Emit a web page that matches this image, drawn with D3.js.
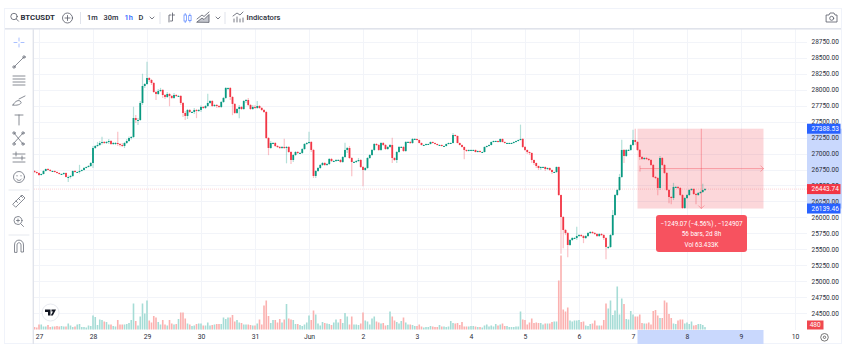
<!DOCTYPE html>
<html><head><meta charset="utf-8">
<script src="https://cdn.jsdelivr.net/npm/d3@7"></script>
<style>html,body{margin:0;padding:0;background:#fff;overflow:hidden}svg{display:block}text{font-family:Roboto,"Noto Sans",sans-serif}</style>
</head><body><svg id="c" width="850" height="351"></svg>
<script>
const closes=[
26711,26696,
26664,26680,26727,26758,26743,26727,26727,26711,26696,26680,26680,26696,26633,26633,26649,26727,26711,26711,26727,26743,26774,26790,26805,26852,
27087,27118,27134,27165,27181,27165,27181,27196,27149,27165,27165,27149,27134,27118,27165,27196,27243,27259,27556,27525,27525,27791,28057,28088,
28182,28151,28104,27963,27932,27979,27995,27916,27885,27932,27901,27870,27916,27901,27901,27791,27635,27588,27682,27650,27650,27682,27666,27682,
27729,27713,27744,27791,27822,27744,27760,27744,27729,27807,27870,28026,28026,27885,27776,27635,27697,27729,27697,27822,27838,27760,27697,27729,
27713,27744,27713,27682,27650,27243,27087,27165,27165,27118,27103,27087,27103,27087,27103,27024,26899,26977,27024,27009,27009,27071,27149,27165,
27181,27056,26649,26727,26774,26821,26852,26821,26836,26915,26883,26883,26899,26899,26868,26946,27056,27087,26930,26868,26868,26883,26899,26790,
26743,26774,26930,26977,27056,27149,27134,27056,27165,27134,27071,27103,27134,26930,26899,27024,27103,27103,27040,27181,27181,27165,27228,27228,
27212,27165,27134,27134,27149,27149,27181,27165,27149,27134,27134,27118,27118,27149,27165,27165,27290,27275,27165,27134,27103,27056,27040,27056,
27056,27056,27024,27040,27024,27024,27103,27118,27134,27181,27196,27196,27181,27228,27181,27165,27165,27165,27165,27181,27196,27212,27228,27103,
27056,27024,27009,26899,26852,26805,26774,26790,26790,26758,26774,26743,26711,26711,26790,26351,26007,25804,25756,25569,25647,25678,25678,25709,
25725,25709,25678,25709,25756,25772,25756,25741,25709,25741,25725,25678,25538,25538,25725,26038,26351,26430,26633,27056,26962,27056,27056,27134,
27212,27181,27056,26946,26915,26930,26915,26899,26821,26633,26617,26461,26930,26821,26696,26430,26320,26304,26477,26477,26461,26351,26148,26304,
26351,26430,26445,26367,26351,26383,26398,26430,26443.74];
const upperWicks=[
16,8,
8,8,16,8,16,16,8,8,8,8,8,8,8,24,16,8,16,8,96,8,16,8,16,16,
32,16,48,32,80,16,16,32,16,16,16,176,16,32,16,32,24,16,176,48,32,32,192,16,
256,16,16,16,16,32,32,16,16,32,16,16,32,16,16,16,16,32,16,16,16,32,16,16,
24,16,16,144,16,16,16,16,16,16,16,16,8,16,16,16,16,32,16,16,16,32,16,32,
32,80,16,16,16,16,16,32,16,16,16,16,16,128,16,16,16,16,16,16,16,16,16,16,
160,16,16,16,16,16,16,16,16,16,16,16,16,16,16,16,112,16,32,16,16,16,32,16,
16,16,16,16,16,16,16,16,16,16,16,16,16,112,16,16,16,16,16,16,16,16,16,16,
8,8,8,8,8,8,8,8,8,8,8,8,8,8,8,8,32,8,8,8,8,8,8,8,
8,8,8,8,8,8,8,8,8,8,8,8,8,8,8,8,8,8,8,8,8,8,224,16,
16,8,8,8,8,8,8,8,8,8,8,8,8,8,8,8,8,16,16,16,16,16,16,144,
16,16,16,16,16,16,16,16,16,16,16,16,16,16,16,80,16,16,48,160,16,16,16,16,
160,176,16,16,16,16,16,16,16,16,16,16,32,16,16,16,16,16,64,16,16,16,16,16,
16,16,16,16,16,16,16,96,16];
const lowerWicks=[
16,16,
16,8,8,8,8,8,8,8,8,8,8,16,8,80,24,16,8,8,24,8,8,8,8,16,
80,16,16,16,24,16,16,32,16,16,32,32,24,16,32,16,16,24,16,48,80,16,32,32,
16,32,32,16,96,16,16,48,32,16,160,16,16,16,16,32,64,64,48,16,16,32,112,16,
32,16,16,16,16,16,16,32,16,16,16,16,32,48,176,16,16,144,16,16,32,16,16,16,
16,16,16,16,16,16,112,16,16,16,16,16,16,16,240,16,64,32,16,16,16,16,16,16,
16,32,32,32,16,16,16,16,16,16,16,16,16,16,16,16,16,48,16,224,16,16,16,16,
256,16,16,16,16,16,16,16,16,16,16,16,16,80,16,48,16,16,16,16,16,16,16,16,
8,8,8,8,8,8,8,8,8,8,8,8,8,8,8,8,8,8,8,8,8,144,16,8,
8,8,8,8,8,8,8,8,8,8,8,8,8,8,8,8,8,8,8,8,8,8,8,16,
16,32,32,48,32,32,32,32,16,32,16,16,32,16,16,16,576,288,32,192,16,16,16,32,
16,16,80,16,16,16,16,16,16,16,16,32,192,32,16,16,16,16,16,16,112,16,16,16,
16,48,16,48,16,16,16,16,16,16,16,112,32,16,16,16,96,96,32,16,16,16,16,16,
16,16,16,16,144,16,16,16,16];
const volumes=[
500,400,1000,1000,600,600,900,500,600,600,700,600,700,600,600,1200,800,500,600,1000,1100,500,500,400,800,700,
2800,2500,900,2000,1900,1600,1500,1000,1000,700,600,1900,1000,1000,1000,1100,1300,1900,5200,1700,800,2600,5200,3200,
5800,1800,1400,2700,2400,1500,1000,1900,1000,800,1900,1200,1000,1100,2100,3400,3400,2200,1200,1000,700,800,1100,1200,
1200,800,800,1400,800,900,1000,1100,1100,1100,2400,2100,2400,2400,2900,1600,1900,1400,1300,1000,1000,1000,900,800,
800,1200,2000,1000,4800,5800,2700,1300,1900,1900,1400,2100,1400,2000,5100,2200,2000,1900,1100,1100,900,700,1000,1400,
2800,1900,3800,3000,1200,800,1500,1300,1200,1100,900,1400,2000,1400,2100,1300,3300,2600,1000,2600,1000,1000,900,1200,
3400,1800,1600,1000,2200,2600,1600,1400,1200,1300,800,900,3600,2600,1800,1500,1200,1700,2400,1400,1000,1000,900,700,
700,1000,600,400,500,500,700,600,500,500,900,600,600,500,600,1700,1300,1200,1300,900,1500,600,600,600,
700,700,600,500,500,400,800,1000,600,800,600,1100,800,1000,1200,700,700,500,500,500,600,600,3600,2000,
1900,1000,1400,2200,1300,1400,1300,1300,1000,1200,1200,1200,1500,1600,1600,9800,14800,4000,3600,4400,1800,1600,1800,1800,
1900,1500,1600,800,700,1100,1200,1800,800,800,800,1900,5200,4200,5800,2900,3800,8600,3000,6200,5100,2100,2000,3700,
3000,2600,2600,3000,1300,1200,1200,1400,1000,3700,3900,2800,2300,2300,5800,5400,3100,2300,1200,1100,1800,2000,2000,1200,
1400,1100,1600,800,900,1100,1100,900,480];
const firstOpen=26727;
const priceTicks=[28750,28500,28250,28000,27750,27500,27250,27000,26750,26500,26250,26000,25750,25500,25250,25000,24750,24500];
const dayLabels=["27","28","29","30","31","Jun","2","3","4","5","6","7","8","9","10"];
const dayBars=[2,26,50,74,98,122,146,170,194,218,242,266,290,314,338];
const measureFrom=27388.53, measureTo=26139.46, lastPrice=26443.74, lastVolume=480;
const measureBars=[268,324];
const measureLines=["\u22121249.07 (\u22124.56%) , \u2212124907","56 bars, 2d 8h","Vol 63.433K"];
const intervals=["1m","30m","1h","D"];

const svg=d3.select("#c");
const x=d3.scaleLinear().domain([0,298]).range([34.5,34.5+2.25*298]);
const y=d3.scaleLinear().domain([28750,24500]).range([41.7,313.3]);
const v=d3.scaleLinear().domain([0,10000]).range([329.5,279.5]);
const UP="#089981",DN="#f23645",UPV="#a6dcd6",DNV="#fbb1b0",BLUE="#2962ff",LINE="#e0e3eb",INK="#2a2e39";
const bars=closes.map((c,i)=>{const o=i?closes[i-1]:firstOpen;return{i,o,c,h:Math.max(o,c)+upperWicks[i],l:Math.min(o,c)-lowerWicks[i],vol:volumes[i],up:c>=o};});

svg.append("defs").append("clipPath").attr("id","pl").append("rect").attr("x",34).attr("y",29).attr("width",773).attr("height",301);

// gridlines
const grid=svg.append("g").attr("stroke","#f2f4f9").attr("stroke-width",1);
grid.selectAll(".h").data(priceTicks).join("line").attr("x1",34).attr("x2",807).attr("y1",d=>Math.round(y(d))+.5).attr("y2",d=>Math.round(y(d))+.5);
grid.selectAll(".v").data(dayBars).join("line").attr("y1",29).attr("y2",330).attr("x1",d=>Math.round(x(d))+.5).attr("x2",d=>Math.round(x(d))+.5);

// measure zone
const mx0=x(measureBars[0]),mx1=x(measureBars[1]);
const xMid=(mx0+mx1)/2+.8, yMid=(y(measureFrom)+y(measureTo))/2;
svg.append("rect").attr("x",mx0).attr("y",y(measureFrom)).attr("width",mx1-mx0).attr("height",y(measureTo)-y(measureFrom)).attr("fill","#f23645").attr("opacity",.2);

const plot=svg.append("g").attr("clip-path","url(#pl)");
// volume
plot.selectAll(".vb").data(bars).join("rect").attr("x",d=>x(d.i)-.8).attr("width",1.6).attr("y",d=>v(d.vol)).attr("height",d=>v(0)-v(d.vol)).attr("fill",d=>d.up?UPV:DNV);
// last price line
svg.append("line").attr("x1",34).attr("x2",807).attr("y1",y(lastPrice)).attr("y2",y(lastPrice)).attr("stroke",DN).attr("stroke-opacity",.22).attr("stroke-dasharray","1 1");
// wicks and bodies
plot.selectAll(".w").data(bars).join("line").attr("x1",d=>x(d.i)).attr("x2",d=>x(d.i)).attr("y1",d=>y(d.h)).attr("y2",d=>y(d.l)).attr("stroke",d=>d.up?UP:DN).attr("stroke-width",1.2).attr("stroke-opacity",.3);
plot.selectAll(".b").data(bars).join("rect").attr("x",d=>x(d.i)-.9).attr("width",1.8).attr("y",d=>y(Math.max(d.o,d.c))).attr("height",d=>Math.max(1,Math.abs(y(d.o)-y(d.c)))).attr("fill",d=>d.up?UP:DN);

// measure arrows
const mg=svg.append("g").attr("stroke",DN).attr("stroke-opacity",.38).attr("fill","none").attr("stroke-width",1);
mg.append("line").attr("x1",mx0+2.5).attr("x2",mx1).attr("y1",yMid).attr("y2",yMid);
mg.append("line").attr("x1",xMid).attr("x2",xMid).attr("y1",y(measureFrom)).attr("y2",y(measureTo));
mg.append("path").attr("d",`M${mx1-3},${yMid-3}L${mx1},${yMid}L${mx1-3},${yMid+3}`);
mg.append("path").attr("d",`M${xMid-3},${y(measureTo)-3}L${xMid},${y(measureTo)}L${xMid+3},${y(measureTo)-3}`);
mg.append("line").attr("x1",mx0+2.5).attr("x2",mx0+2.5).attr("y1",yMid-3).attr("y2",yMid+3);
// measure label
svg.append("rect").attr("x",656).attr("y",215).attr("width",91).attr("height",37).attr("rx",3).attr("fill","#f7525f");
svg.selectAll(".ml").data(measureLines).join("text").attr("x",701.5).attr("y",(d,i)=>225.5+i*10.5).attr("text-anchor","middle").attr("font-size",6.3).attr("fill","#fff").text(d=>d);

// chrome
svg.append("rect").attr("x",4.5).attr("y",8.5).attr("width",837).attr("height",335).attr("fill","none").attr("stroke","#f0f3fa");
svg.append("rect").attr("x",5).attr("y",28).attr("width",836).attr("height",1.6).attr("fill",LINE);
svg.append("rect").attr("x",32.6).attr("y",29).attr("width",1.4).attr("height",315).attr("fill",LINE);

// axis highlights
svg.append("rect").attr("x",807).attr("y",y(measureFrom)).attr("width",35).attr("height",y(measureTo)-y(measureFrom)).attr("fill","#c9d8fd");
svg.append("rect").attr("x",mx0).attr("y",330).attr("width",mx1-mx0).attr("height",14).attr("fill","#c9d8fd");

// axes
const ay=svg.append("g").attr("transform","translate(807,0)").call(d3.axisRight(y).tickValues(priceTicks).tickFormat(d3.format(".2f")).tickSize(0).tickPadding(4.5));
ay.select(".domain").remove();
ay.selectAll("text").attr("font-size",6.5).attr("fill",INK).attr("font-family","Roboto");
const ax=svg.append("g").attr("transform","translate(0,330)").call(d3.axisBottom(x).tickValues(dayBars).tickFormat((d,i)=>dayLabels[i]).tickSize(0).tickPadding(4));
ax.select(".domain").remove();
ax.selectAll("text").attr("font-size",6.8).attr("fill",INK).attr("font-family","Roboto");

// price tags
const tags=[[measureFrom,BLUE],[lastPrice,DN],[measureTo,BLUE]];
tags.forEach(([p,col])=>{
  svg.append("rect").attr("x",807).attr("y",y(p)-5).attr("width",33.5).attr("height",10).attr("fill",col);
  svg.append("text").attr("x",811.5).attr("y",y(p)+2.4).attr("font-size",6.5).attr("fill","#fff").text(d3.format(".2f")(p));
});
svg.append("rect").attr("x",807).attr("y",320.5).attr("width",16.5).attr("height",9).attr("fill","#f0484f");
svg.append("text").attr("x",815.2).attr("y",327.4).attr("text-anchor","middle").attr("font-size",6.5).attr("fill","#fff").text(lastVolume);

// top toolbar
const tb=svg.append("g");
const ic=svg.append("g").attr("fill","none").attr("stroke","#555966").attr("stroke-width",.8).attr("stroke-linecap","round");
ic.append("circle").attr("cx",14).attr("cy",16.5).attr("r",3.2);
ic.append("line").attr("x1",16.4).attr("y1",19).attr("x2",18.5).attr("y2",21.2);
tb.append("text").attr("x",20.5).attr("y",20).attr("font-size",7.8).attr("font-weight",700).attr("fill",INK).text("BTCUSDT");
ic.append("circle").attr("cx",67.5).attr("cy",18).attr("r",5);
ic.append("path").attr("d","M65,18H70M67.5,15.5V20.5");
[[80.5],[160],[225]].forEach(([xx])=>svg.append("line").attr("x1",xx).attr("x2",xx).attr("y1",12).attr("y2",24).attr("stroke",LINE));
const ivX=[87,103.5,124.5,138.5];
tb.selectAll(".iv").data(intervals).join("text").attr("x",(d,i)=>ivX[i]).attr("y",20).attr("font-size",7.4).attr("font-weight",500).attr("fill",d=>d==="1h"?BLUE:INK).text(d=>d);
ic.append("path").attr("d","M150,17L152,19L154,17");
ic.append("path").attr("d","M216,17L218,19L220,17");
ic.append("path").attr("d","M169,22V15H171M172.5,13V21H170.5M172.5,15H174.5");
const can=svg.append("g").attr("fill","none").attr("stroke",BLUE).attr("stroke-opacity",.7).attr("stroke-width",.8);
can.append("rect").attr("x",184).attr("y",15).attr("width",2.4).attr("height",6);
can.append("rect").attr("x",188.7).attr("y",15.6).attr("width",2.4).attr("height",5);
can.append("path").attr("d","M185.2,13V15M185.2,21V23M189.9,13.5V15.6M189.9,20.6V22.5");
ic.append("path").attr("d","M197,22L202,18L204,19.5L209,14.5V22Z").attr("fill","#c4c6cd");
ic.append("path").attr("d","M197,19L202,15L204,16.5L209,12");
ic.append("path").attr("d","M234,22V19M237,22V17M240,22V19M243,22V18M233,16L237,13L240,15L243,12");
tb.append("text").attr("x",246.5).attr("y",20).attr("font-size",7.6).attr("font-weight",500).attr("fill",INK).text("Indicators");
// camera
ic.append("path").attr("d","M826.5,15H829L830,13H834L835,15H837V22H826.5Z");
ic.append("circle").attr("cx",831.7).attr("cy",18.3).attr("r",2);

// left tools
const L=svg.append("g").attr("fill","none").attr("stroke","#6a6e7a").attr("stroke-width",.8).attr("stroke-linecap","round");
L.append("path").attr("d","M19,38V41M19,44V47M14,42.5H17M21,42.5H24").attr("stroke",BLUE).attr("stroke-opacity",.5);
L.append("path").attr("d","M14,67L24,57");
L.append("circle").attr("cx",14).attr("cy",67).attr("r",1.2);L.append("circle").attr("cx",24).attr("cy",57).attr("r",1.2);
L.append("path").attr("d","M13,76H25M13,79H25M13,82H25M13,85H25");
L.append("path").attr("d","M13,105C15,101 19,99 21,102C22,104 17,106 13,105ZM19,99L25,96");
L.append("path").attr("d","M15,115H23M19,115V125");
L.append("path").attr("d","M14,133L23,144M14,143L23,133");
L.append("circle").attr("cx",14).attr("cy",133).attr("r",1.2);L.append("circle").attr("cx",23).attr("cy",144).attr("r",1.2);L.append("circle").attr("cx",14).attr("cy",144).attr("r",1.2);L.append("circle").attr("cx",23).attr("cy",133).attr("r",1.2);
L.append("path").attr("d","M13,154H25M13,158H25M13,162H25M16,152V156M22,156V160");
L.append("circle").attr("cx",19).attr("cy",177).attr("r",5.5);
L.append("path").attr("d","M16.5,179C18,181 20,181 21.5,179M17,175.5V176M21,175.5V176");
L.append("line").attr("x1",9).attr("x2",29).attr("y1",190).attr("y2",190).attr("stroke",LINE);
L.append("path").attr("d","M13,204L22,195L25,198L16,207ZM16,201L17.5,202.5M18.5,198.5L20,200M21,196L22.5,197.5");
L.append("circle").attr("cx",18).attr("cy",220.5).attr("r",4);
L.append("path").attr("d","M21,224L23.5,226.5M16.5,220.5H19.5M18,219V222");
L.append("line").attr("x1",9).attr("x2",29).attr("y1",235).attr("y2",235).attr("stroke",LINE);
L.append("path").attr("d","M14.5,252V245C14.5,238.5 23.5,238.5 23.5,245V252H21V245C21,242 17,242 17,245V252Z");

// TradingView logo
svg.append("circle").attr("cx",50.5).attr("cy",312.5).attr("r",8.5).attr("fill","#fff").attr("stroke","#e8eaf0");
svg.append("path").attr("d","M45,309.5H50.5V315.5H48V312H45ZM51.5,309.5H56L52.8,315.5H50.7L53,311.5H51.5Z").attr("fill","#131722");
// settings icon
const st=svg.append("g").attr("fill","none").attr("stroke","#555").attr("stroke-width",.8);
st.append("circle").attr("cx",824.5).attr("cy",337.3).attr("r",3.8);
st.append("circle").attr("cx",824.5).attr("cy",337.3).attr("r",1.2);
</script></body></html>
